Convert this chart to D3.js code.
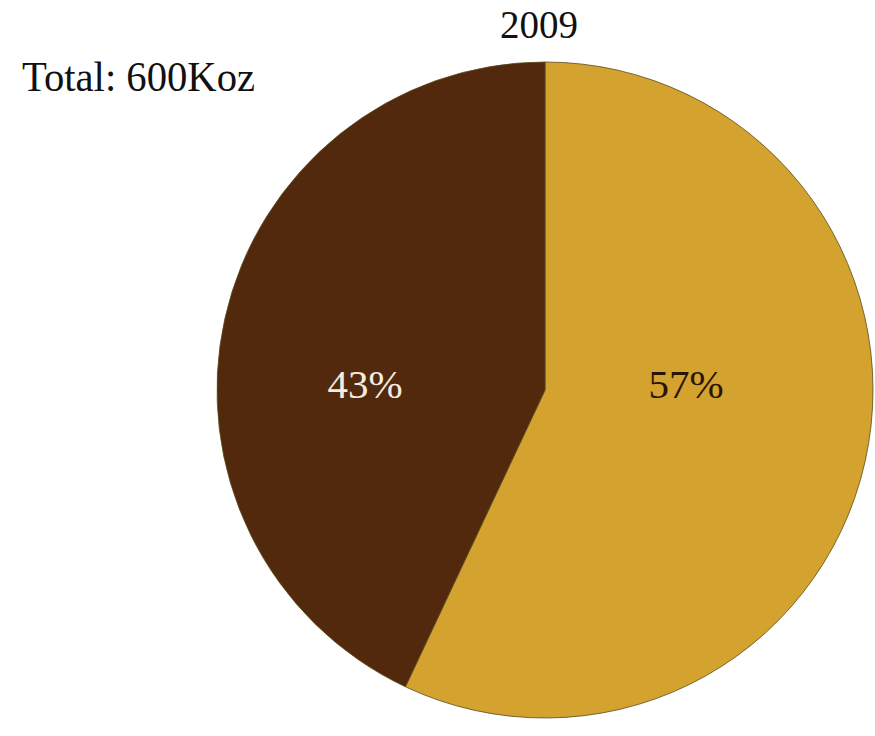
<!DOCTYPE html>
<html>
<head>
<meta charset="utf-8">
<script src="https://cdn.jsdelivr.net/npm/d3@7"></script>
<style>
  html, body { margin: 0; padding: 0; background: #ffffff; }
  svg { display: block; }
  text { font-family: "Liberation Serif", "DejaVu Serif", serif; }
</style>
</head>
<body>
<svg id="chart" width="875" height="736"></svg>
<script>
// Production split for 2009
const categories = ["Gold", "Other"];
const shares = [57, 43];
const sliceColors = ["#d4a22e", "#52290c"];
const labelColors = ["#2a1405", "#f4ece0"];
const chartTitle = "2009";
const totalLabel = "Total: 600Koz";

const width = 875, height = 736;
const cx = 545, cy = 390, radius = 328;

const svg = d3.select("#chart");

const pie = d3.pie().sort(null).value(d => d.value);
const arcs = pie(categories.map((c, i) => ({ name: c, value: shares[i], i })));

const arc = d3.arc().innerRadius(0).outerRadius(radius);

const g = svg.append("g").attr("transform", `translate(${cx},${cy})`);

g.selectAll("path.slice")
  .data(arcs)
  .join("path")
  .attr("class", "slice")
  .attr("d", arc)
  .attr("fill", d => sliceColors[d.data.i])
  .attr("stroke", "#5a4a1a")
  .attr("stroke-width", 0.8);

// percentage labels placed horizontally at pie centre height
g.selectAll("text.pct")
  .data(arcs)
  .join("text")
  .attr("class", "pct")
  .attr("x", d => d.data.i === 0 ? 141 : -180)
  .attr("y", 8)
  .attr("text-anchor", "middle")
  .attr("font-size", 41)
  .attr("fill", d => labelColors[d.data.i])
  .text(d => d.data.value + "%");

svg.append("text")
  .attr("x", 539)
  .attr("y", 38)
  .attr("text-anchor", "middle")
  .attr("font-size", 39)
  .attr("fill", "#111")
  .text(chartTitle);

svg.append("text")
  .attr("x", 22)
  .attr("y", 91)
  .attr("font-size", 42)
  .attr("fill", "#111")
  .attr("textLength", 233)
  .attr("lengthAdjust", "spacingAndGlyphs")
  .text(totalLabel);
</script>
</body>
</html>
